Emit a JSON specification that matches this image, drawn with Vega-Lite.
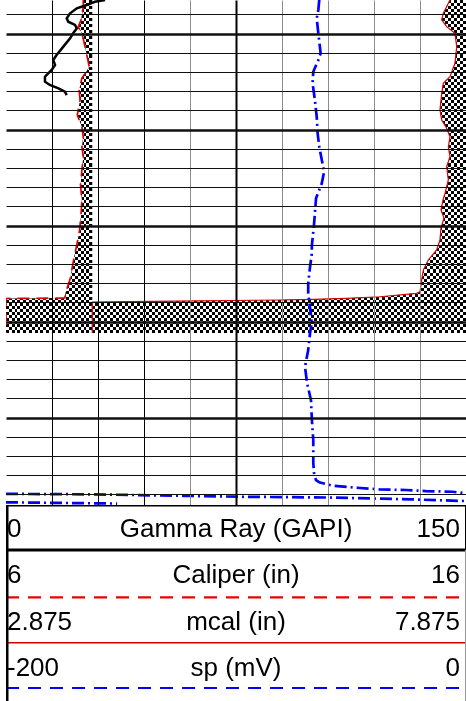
{
"$schema":"https://vega.github.io/schema/vega-lite/v6.json",
"background":"white",
"padding":{"left":6,"top":0,"right":0,"bottom":0},
"spacing":0,
"config":{"view":{"stroke":null}},
"datasets":{
"gr":[{"depth":996.5,"value":32.3},{"depth":996.68,"value":29.0},{"depth":997.02,"value":26.3},{"depth":997.36,"value":23.1},{"depth":997.89,"value":20.9},{"depth":998.41,"value":19.8},{"depth":998.76,"value":20.3},{"depth":999.1,"value":22.5},{"depth":999.45,"value":23.1},{"depth":999.97,"value":21.9},{"depth":1000.49,"value":20.9},{"depth":1001.36,"value":18.7},{"depth":1002.23,"value":16.5},{"depth":1002.75,"value":15.4},{"depth":1003.27,"value":16.0},{"depth":1003.79,"value":14.9},{"depth":1004.49,"value":12.7},{"depth":1005.01,"value":12.7},{"depth":1005.35,"value":14.3},{"depth":1005.7,"value":17.1},{"depth":1006.05,"value":19.2},{"depth":1006.4,"value":19.8}],
"cal":[{"depth":996.5,"value":7.68},{"depth":997.23,"value":7.68},{"depth":998.58,"value":7.63},{"depth":999.31,"value":7.57},{"depth":999.94,"value":7.65},{"depth":1001.4,"value":7.72},{"depth":1002.75,"value":7.78},{"depth":1003.48,"value":7.81},{"depth":1004.0,"value":7.74},{"depth":1004.63,"value":7.65},{"depth":1005.88,"value":7.59},{"depth":1006.92,"value":7.61},{"depth":1008.48,"value":7.55},{"depth":1009.73,"value":7.65},{"depth":1010.77,"value":7.68},{"depth":1011.81,"value":7.65},{"depth":1012.85,"value":7.68},{"depth":1014.21,"value":7.65},{"depth":1015.77,"value":7.62},{"depth":1017.33,"value":7.65},{"depth":1018.9,"value":7.63},{"depth":1020.46,"value":7.6},{"depth":1022.02,"value":7.54},{"depth":1023.06,"value":7.49},{"depth":1024.1,"value":7.45},{"depth":1025.46,"value":7.4},{"depth":1026.5,"value":7.33},{"depth":1027.13,"value":7.29},{"depth":1027.54,"value":7.28},{"depth":1027.59,"value":6.0},{"depth":1031.19,"value":6.0}],
"mcal":[{"depth":996.5,"value":7.701},{"depth":997.13,"value":7.668},{"depth":997.89,"value":7.628},{"depth":998.58,"value":7.611},{"depth":999.28,"value":7.665},{"depth":999.97,"value":7.755},{"depth":1001.36,"value":7.774},{"depth":1003.09,"value":7.755},{"depth":1004.49,"value":7.701},{"depth":1005.18,"value":7.628},{"depth":1006.22,"value":7.611},{"depth":1007.96,"value":7.592},{"depth":1009.0,"value":7.611},{"depth":1009.86,"value":7.665},{"depth":1010.74,"value":7.701},{"depth":1011.78,"value":7.683},{"depth":1012.82,"value":7.701},{"depth":1013.86,"value":7.665},{"depth":1015.25,"value":7.683},{"depth":1016.64,"value":7.647},{"depth":1017.33,"value":7.625},{"depth":1018.38,"value":7.603},{"depth":1019.21,"value":7.636},{"depth":1020.25,"value":7.603},{"depth":1021.5,"value":7.592},{"depth":1022.54,"value":7.556},{"depth":1023.58,"value":7.465},{"depth":1024.63,"value":7.411},{"depth":1025.67,"value":7.393},{"depth":1026.89,"value":7.375},{"depth":1027.05,"value":7.339},{"depth":1027.41,"value":6.94},{"depth":1027.57,"value":6.578},{"depth":1027.68,"value":6.215},{"depth":1027.75,"value":5.853},{"depth":1027.83,"value":4.984},{"depth":1027.91,"value":4.223},{"depth":1027.96,"value":3.8125},{"depth":1031.19,"value":3.8125}],
"sp":[{"depth":996.5,"sp":-63.8,"pass":1},{"depth":997.54,"sp":-64.2,"pass":1},{"depth":998.41,"sp":-64.9,"pass":1},{"depth":999.97,"sp":-64.2,"pass":1},{"depth":1002.05,"sp":-63.2,"pass":1},{"depth":1002.75,"sp":-64.2,"pass":1},{"depth":1003.97,"sp":-66.4,"pass":1},{"depth":1005.18,"sp":-66.7,"pass":1},{"depth":1006.92,"sp":-65.7,"pass":1},{"depth":1008.66,"sp":-64.9,"pass":1},{"depth":1010.39,"sp":-64.5,"pass":1},{"depth":1011.78,"sp":-63.8,"pass":1},{"depth":1014.39,"sp":-61.7,"pass":1},{"depth":1015.59,"sp":-62.7,"pass":1},{"depth":1017.16,"sp":-65.2,"pass":1},{"depth":1019.94,"sp":-66.1,"pass":1},{"depth":1022.02,"sp":-67.0,"pass":1},{"depth":1023.06,"sp":-67.1,"pass":1},{"depth":1024.28,"sp":-67.8,"pass":1},{"depth":1026.01,"sp":-68.6,"pass":1},{"depth":1027.05,"sp":-68.6,"pass":1},{"depth":1028.06,"sp":-68.1,"pass":1},{"depth":1029.1,"sp":-67.5,"pass":1},{"depth":1030.15,"sp":-67.1,"pass":1},{"depth":1031.19,"sp":-67.8,"pass":1},{"depth":1032.96,"sp":-68.6,"pass":1},{"depth":1034.7,"sp":-70.0,"pass":1},{"depth":1036.4,"sp":-69.1,"pass":1},{"depth":1038.17,"sp":-67.4,"pass":1},{"depth":1040.25,"sp":-67.0,"pass":1},{"depth":1042.33,"sp":-66.4,"pass":1},{"depth":1044.73,"sp":-66.4,"pass":1},{"depth":1045.98,"sp":-66.0,"pass":1},{"depth":1046.5,"sp":-65.2,"pass":1},{"depth":1046.74,"sp":-63.8,"pass":1},{"depth":1047.09,"sp":-58.0,"pass":1},{"depth":1047.3,"sp":-47.8,"pass":1},{"depth":1047.47,"sp":-37.7,"pass":1},{"depth":1047.54,"sp":-26.1,"pass":1},{"depth":1047.65,"sp":-17.4,"pass":1},{"depth":1047.72,"sp":-5.8,"pass":1},{"depth":1047.89,"sp":0,"pass":1},{"depth":1047.94,"sp":-200,"pass":2},{"depth":1047.99,"sp":-162.6,"pass":2},{"depth":1048.24,"sp":-98.3,"pass":2},{"depth":1048.32,"sp":-59.1,"pass":2},{"depth":1048.51,"sp":-24.3,"pass":2},{"depth":1048.69,"sp":0,"pass":2},{"depth":1048.82,"sp":-200,"pass":3},{"depth":1048.95,"sp":-151.7,"pass":3}],
"hdr":[{"row":1,"lo":"0","name":"Gamma Ray (GAPI)","hi":"150"},{"row":2,"lo":"6","name":"Caliper (in)","hi":"16"},{"row":3,"lo":"2.875","name":"mcal (in)","hi":"7.875"},{"row":4,"lo":"-200","name":"sp (mV)","hi":"0"}]
},
"vconcat":[
{"width":460,"height":505,
"encoding":{"y":{"field":"depth","type":"quantitative","scale":{"domain":[996.5,1049.1],"reverse":true,"nice":false,"zero":false},
"axis":{"values":[998,1000,1002,1004,1006,1008,1010,1012,1014,1016,1018,1020,1022,1024,1026,1028,1030,1032,1034,1036,1038,1040,1042,1044,1046,1048],"grid":true,"labels":false,"ticks":false,"domain":false,"title":null,"zindex":1,"gridColor":"#111111","gridOpacity":1,"gridWidth":{"condition":{"test":"datum.value % 10 === 0","value":2.5},"value":1}}}},
"resolve":{"scale":{"x":"independent"}},
"layer":[
{"data":{"name":"cal"},
"encoding":{"x":{"field":"value","type":"quantitative","scale":{"domain":[6,16],"nice":false,"zero":false},"axis":null}},
"layer":[
{"mark":{"type":"area","orient":"horizontal","color":{"gradient":"linear","x1":0,"y1":0,"x2":1,"y2":0,"stops":[
{"offset":0.0333,"color":"#000"},{"offset":0.0333,"color":"#fff"},{"offset":0.0667,"color":"#fff"},{"offset":0.0667,"color":"#000"},{"offset":0.1,"color":"#000"},{"offset":0.1,"color":"#fff"},{"offset":0.1333,"color":"#fff"},{"offset":0.1333,"color":"#000"},{"offset":0.1667,"color":"#000"},{"offset":0.1667,"color":"#fff"},{"offset":0.2,"color":"#fff"},{"offset":0.2,"color":"#000"},{"offset":0.2333,"color":"#000"},{"offset":0.2333,"color":"#fff"},{"offset":0.2667,"color":"#fff"},{"offset":0.2667,"color":"#000"},{"offset":0.3,"color":"#000"},{"offset":0.3,"color":"#fff"},{"offset":0.3333,"color":"#fff"},{"offset":0.3333,"color":"#000"},{"offset":0.3667,"color":"#000"},{"offset":0.3667,"color":"#fff"},{"offset":0.4,"color":"#fff"},{"offset":0.4,"color":"#000"},{"offset":0.4333,"color":"#000"},{"offset":0.4333,"color":"#fff"},{"offset":0.4667,"color":"#fff"},{"offset":0.4667,"color":"#000"},{"offset":0.5,"color":"#000"},{"offset":0.5,"color":"#fff"},{"offset":0.5333,"color":"#fff"},{"offset":0.5333,"color":"#000"},{"offset":0.5667,"color":"#000"},{"offset":0.5667,"color":"#fff"},{"offset":0.6,"color":"#fff"},{"offset":0.6,"color":"#000"},{"offset":0.6333,"color":"#000"},{"offset":0.6333,"color":"#fff"},{"offset":0.6667,"color":"#fff"},{"offset":0.6667,"color":"#000"},{"offset":0.7,"color":"#000"},{"offset":0.7,"color":"#fff"},{"offset":0.7333,"color":"#fff"},{"offset":0.7333,"color":"#000"},{"offset":0.7667,"color":"#000"},{"offset":0.7667,"color":"#fff"},{"offset":0.8,"color":"#fff"},{"offset":0.8,"color":"#000"},{"offset":0.8333,"color":"#000"},{"offset":0.8333,"color":"#fff"},{"offset":0.8667,"color":"#fff"},{"offset":0.8667,"color":"#000"},{"offset":0.9,"color":"#000"},{"offset":0.9,"color":"#fff"},{"offset":0.9333,"color":"#fff"},{"offset":0.9333,"color":"#000"},{"offset":0.9667,"color":"#000"},{"offset":0.9667,"color":"#fff"}
]}},"encoding":{"x2":{"datum":7.875}}},
{"mark":{"type":"area","orient":"horizontal","blend":"difference","color":{"gradient":"linear","x1":0,"y1":0,"x2":0,"y2":1,"stops":[
{"offset":0.0091,"color":"#fff"},{"offset":0.0091,"color":"#000"},{"offset":0.0182,"color":"#000"},{"offset":0.0182,"color":"#fff"},{"offset":0.0273,"color":"#fff"},{"offset":0.0273,"color":"#000"},{"offset":0.0364,"color":"#000"},{"offset":0.0364,"color":"#fff"},{"offset":0.0455,"color":"#fff"},{"offset":0.0455,"color":"#000"},{"offset":0.0545,"color":"#000"},{"offset":0.0545,"color":"#fff"},{"offset":0.0636,"color":"#fff"},{"offset":0.0636,"color":"#000"},{"offset":0.0727,"color":"#000"},{"offset":0.0727,"color":"#fff"},{"offset":0.0818,"color":"#fff"},{"offset":0.0818,"color":"#000"},{"offset":0.0909,"color":"#000"},{"offset":0.0909,"color":"#fff"},
{"offset":0.1,"color":"#fff"},{"offset":0.1,"color":"#000"},{"offset":0.1091,"color":"#000"},{"offset":0.1091,"color":"#fff"},{"offset":0.1182,"color":"#fff"},{"offset":0.1182,"color":"#000"},{"offset":0.1273,"color":"#000"},{"offset":0.1273,"color":"#fff"},{"offset":0.1364,"color":"#fff"},{"offset":0.1364,"color":"#000"},{"offset":0.1455,"color":"#000"},{"offset":0.1455,"color":"#fff"},{"offset":0.1545,"color":"#fff"},{"offset":0.1545,"color":"#000"},{"offset":0.1636,"color":"#000"},{"offset":0.1636,"color":"#fff"},{"offset":0.1727,"color":"#fff"},{"offset":0.1727,"color":"#000"},{"offset":0.1818,"color":"#000"},{"offset":0.1818,"color":"#fff"},{"offset":0.1909,"color":"#fff"},{"offset":0.1909,"color":"#000"},
{"offset":0.2,"color":"#000"},{"offset":0.2,"color":"#fff"},{"offset":0.2091,"color":"#fff"},{"offset":0.2091,"color":"#000"},{"offset":0.2182,"color":"#000"},{"offset":0.2182,"color":"#fff"},{"offset":0.2273,"color":"#fff"},{"offset":0.2273,"color":"#000"},{"offset":0.2364,"color":"#000"},{"offset":0.2364,"color":"#fff"},{"offset":0.2455,"color":"#fff"},{"offset":0.2455,"color":"#000"},{"offset":0.2545,"color":"#000"},{"offset":0.2545,"color":"#fff"},{"offset":0.2636,"color":"#fff"},{"offset":0.2636,"color":"#000"},{"offset":0.2727,"color":"#000"},{"offset":0.2727,"color":"#fff"},{"offset":0.2818,"color":"#fff"},{"offset":0.2818,"color":"#000"},{"offset":0.2909,"color":"#000"},{"offset":0.2909,"color":"#fff"},
{"offset":0.3,"color":"#fff"},{"offset":0.3,"color":"#000"},{"offset":0.3091,"color":"#000"},{"offset":0.3091,"color":"#fff"},{"offset":0.3182,"color":"#fff"},{"offset":0.3182,"color":"#000"},{"offset":0.3273,"color":"#000"},{"offset":0.3273,"color":"#fff"},{"offset":0.3364,"color":"#fff"},{"offset":0.3364,"color":"#000"},{"offset":0.3455,"color":"#000"},{"offset":0.3455,"color":"#fff"},{"offset":0.3545,"color":"#fff"},{"offset":0.3545,"color":"#000"},{"offset":0.3636,"color":"#000"},{"offset":0.3636,"color":"#fff"},{"offset":0.3727,"color":"#fff"},{"offset":0.3727,"color":"#000"},{"offset":0.3818,"color":"#000"},{"offset":0.3818,"color":"#fff"},{"offset":0.3909,"color":"#fff"},{"offset":0.3909,"color":"#000"},
{"offset":0.4,"color":"#000"},{"offset":0.4,"color":"#fff"},{"offset":0.4091,"color":"#fff"},{"offset":0.4091,"color":"#000"},{"offset":0.4182,"color":"#000"},{"offset":0.4182,"color":"#fff"},{"offset":0.4273,"color":"#fff"},{"offset":0.4273,"color":"#000"},{"offset":0.4364,"color":"#000"},{"offset":0.4364,"color":"#fff"},{"offset":0.4455,"color":"#fff"},{"offset":0.4455,"color":"#000"},{"offset":0.4545,"color":"#000"},{"offset":0.4545,"color":"#fff"},{"offset":0.4636,"color":"#fff"},{"offset":0.4636,"color":"#000"},{"offset":0.4727,"color":"#000"},{"offset":0.4727,"color":"#fff"},{"offset":0.4818,"color":"#fff"},{"offset":0.4818,"color":"#000"},{"offset":0.4909,"color":"#000"},{"offset":0.4909,"color":"#fff"},
{"offset":0.5,"color":"#fff"},{"offset":0.5,"color":"#000"},{"offset":0.5091,"color":"#000"},{"offset":0.5091,"color":"#fff"},{"offset":0.5182,"color":"#fff"},{"offset":0.5182,"color":"#000"},{"offset":0.5273,"color":"#000"},{"offset":0.5273,"color":"#fff"},{"offset":0.5364,"color":"#fff"},{"offset":0.5364,"color":"#000"},{"offset":0.5455,"color":"#000"},{"offset":0.5455,"color":"#fff"},{"offset":0.5545,"color":"#fff"},{"offset":0.5545,"color":"#000"},{"offset":0.5636,"color":"#000"},{"offset":0.5636,"color":"#fff"},{"offset":0.5727,"color":"#fff"},{"offset":0.5727,"color":"#000"},{"offset":0.5818,"color":"#000"},{"offset":0.5818,"color":"#fff"},{"offset":0.5909,"color":"#fff"},{"offset":0.5909,"color":"#000"},
{"offset":0.6,"color":"#000"},{"offset":0.6,"color":"#fff"},{"offset":0.6091,"color":"#fff"},{"offset":0.6091,"color":"#000"},{"offset":0.6182,"color":"#000"},{"offset":0.6182,"color":"#fff"},{"offset":0.6273,"color":"#fff"},{"offset":0.6273,"color":"#000"},{"offset":0.6364,"color":"#000"},{"offset":0.6364,"color":"#fff"},{"offset":0.6455,"color":"#fff"},{"offset":0.6455,"color":"#000"},{"offset":0.6545,"color":"#000"},{"offset":0.6545,"color":"#fff"},{"offset":0.6636,"color":"#fff"},{"offset":0.6636,"color":"#000"},{"offset":0.6727,"color":"#000"},{"offset":0.6727,"color":"#fff"},{"offset":0.6818,"color":"#fff"},{"offset":0.6818,"color":"#000"},{"offset":0.6909,"color":"#000"},{"offset":0.6909,"color":"#fff"},
{"offset":0.7,"color":"#fff"},{"offset":0.7,"color":"#000"},{"offset":0.7091,"color":"#000"},{"offset":0.7091,"color":"#fff"},{"offset":0.7182,"color":"#fff"},{"offset":0.7182,"color":"#000"},{"offset":0.7273,"color":"#000"},{"offset":0.7273,"color":"#fff"},{"offset":0.7364,"color":"#fff"},{"offset":0.7364,"color":"#000"},{"offset":0.7455,"color":"#000"},{"offset":0.7455,"color":"#fff"},{"offset":0.7545,"color":"#fff"},{"offset":0.7545,"color":"#000"},{"offset":0.7636,"color":"#000"},{"offset":0.7636,"color":"#fff"},{"offset":0.7727,"color":"#fff"},{"offset":0.7727,"color":"#000"},{"offset":0.7818,"color":"#000"},{"offset":0.7818,"color":"#fff"},{"offset":0.7909,"color":"#fff"},{"offset":0.7909,"color":"#000"},
{"offset":0.8,"color":"#000"},{"offset":0.8,"color":"#fff"},{"offset":0.8091,"color":"#fff"},{"offset":0.8091,"color":"#000"},{"offset":0.8182,"color":"#000"},{"offset":0.8182,"color":"#fff"},{"offset":0.8273,"color":"#fff"},{"offset":0.8273,"color":"#000"},{"offset":0.8364,"color":"#000"},{"offset":0.8364,"color":"#fff"},{"offset":0.8455,"color":"#fff"},{"offset":0.8455,"color":"#000"},{"offset":0.8545,"color":"#000"},{"offset":0.8545,"color":"#fff"},{"offset":0.8636,"color":"#fff"},{"offset":0.8636,"color":"#000"},{"offset":0.8727,"color":"#000"},{"offset":0.8727,"color":"#fff"},{"offset":0.8818,"color":"#fff"},{"offset":0.8818,"color":"#000"},{"offset":0.8909,"color":"#000"},{"offset":0.8909,"color":"#fff"},
{"offset":0.9,"color":"#fff"},{"offset":0.9,"color":"#000"},{"offset":0.9091,"color":"#000"},{"offset":0.9091,"color":"#fff"},{"offset":0.9182,"color":"#fff"},{"offset":0.9182,"color":"#000"},{"offset":0.9273,"color":"#000"},{"offset":0.9273,"color":"#fff"},{"offset":0.9364,"color":"#fff"},{"offset":0.9364,"color":"#000"},{"offset":0.9455,"color":"#000"},{"offset":0.9455,"color":"#fff"},{"offset":0.9545,"color":"#fff"},{"offset":0.9545,"color":"#000"},{"offset":0.9636,"color":"#000"},{"offset":0.9636,"color":"#fff"},{"offset":0.9727,"color":"#fff"},{"offset":0.9727,"color":"#000"},{"offset":0.9818,"color":"#000"},{"offset":0.9818,"color":"#fff"},{"offset":0.9909,"color":"#fff"},{"offset":0.9909,"color":"#000"}
]}},"encoding":{"x2":{"datum":7.875}}},
{"mark":{"type":"line","clip":true,"stroke":"#e00000","strokeWidth":1.7,"strokeDash":[12,7]},"encoding":{"order":{"field":"depth","type":"quantitative"}}}
]},
{"data":{"name":"mcal"},
"encoding":{"x":{"field":"value","type":"quantitative","scale":{"domain":[2.875,7.875],"nice":false,"zero":false},"axis":null}},
"layer":[
{"mark":{"type":"area","orient":"horizontal","color":{"gradient":"linear","x1":0,"y1":0,"x2":1,"y2":0,"stops":[
{"offset":0.008,"color":"#000"},{"offset":0.008,"color":"#fff"},{"offset":0.016,"color":"#fff"},{"offset":0.016,"color":"#000"},{"offset":0.024,"color":"#000"},{"offset":0.024,"color":"#fff"},{"offset":0.032,"color":"#fff"},{"offset":0.032,"color":"#000"},{"offset":0.04,"color":"#000"},{"offset":0.04,"color":"#fff"},{"offset":0.048,"color":"#fff"},{"offset":0.048,"color":"#000"},{"offset":0.056,"color":"#000"},{"offset":0.056,"color":"#fff"},{"offset":0.064,"color":"#fff"},{"offset":0.064,"color":"#000"},{"offset":0.072,"color":"#000"},{"offset":0.072,"color":"#fff"},{"offset":0.08,"color":"#fff"},{"offset":0.08,"color":"#000"},{"offset":0.088,"color":"#000"},{"offset":0.088,"color":"#fff"},{"offset":0.096,"color":"#fff"},{"offset":0.096,"color":"#000"},{"offset":0.104,"color":"#000"},{"offset":0.104,"color":"#fff"},{"offset":0.112,"color":"#fff"},{"offset":0.112,"color":"#000"},{"offset":0.12,"color":"#000"},{"offset":0.12,"color":"#fff"},{"offset":0.128,"color":"#fff"},{"offset":0.128,"color":"#000"},{"offset":0.136,"color":"#000"},{"offset":0.136,"color":"#fff"},{"offset":0.144,"color":"#fff"},{"offset":0.144,"color":"#000"},{"offset":0.152,"color":"#000"},{"offset":0.152,"color":"#fff"},{"offset":0.16,"color":"#fff"},{"offset":0.16,"color":"#000"},{"offset":0.168,"color":"#000"},{"offset":0.168,"color":"#fff"},{"offset":0.176,"color":"#fff"},{"offset":0.176,"color":"#000"},{"offset":0.184,"color":"#000"},{"offset":0.184,"color":"#fff"},{"offset":0.192,"color":"#fff"},{"offset":0.192,"color":"#000"},
{"offset":0.2,"color":"#000"},{"offset":0.2,"color":"#fff"},{"offset":0.208,"color":"#fff"},{"offset":0.208,"color":"#000"},{"offset":0.216,"color":"#000"},{"offset":0.216,"color":"#fff"},{"offset":0.224,"color":"#fff"},{"offset":0.224,"color":"#000"},{"offset":0.232,"color":"#000"},{"offset":0.232,"color":"#fff"},{"offset":0.24,"color":"#fff"},{"offset":0.24,"color":"#000"},{"offset":0.248,"color":"#000"},{"offset":0.248,"color":"#fff"},{"offset":0.256,"color":"#fff"},{"offset":0.256,"color":"#000"},{"offset":0.264,"color":"#000"},{"offset":0.264,"color":"#fff"},{"offset":0.272,"color":"#fff"},{"offset":0.272,"color":"#000"},{"offset":0.28,"color":"#000"},{"offset":0.28,"color":"#fff"},{"offset":0.288,"color":"#fff"},{"offset":0.288,"color":"#000"},{"offset":0.296,"color":"#000"},{"offset":0.296,"color":"#fff"},{"offset":0.304,"color":"#fff"},{"offset":0.304,"color":"#000"},{"offset":0.312,"color":"#000"},{"offset":0.312,"color":"#fff"},{"offset":0.32,"color":"#fff"},{"offset":0.32,"color":"#000"},{"offset":0.328,"color":"#000"},{"offset":0.328,"color":"#fff"},{"offset":0.336,"color":"#fff"},{"offset":0.336,"color":"#000"},{"offset":0.344,"color":"#000"},{"offset":0.344,"color":"#fff"},{"offset":0.352,"color":"#fff"},{"offset":0.352,"color":"#000"},{"offset":0.36,"color":"#000"},{"offset":0.36,"color":"#fff"},{"offset":0.368,"color":"#fff"},{"offset":0.368,"color":"#000"},{"offset":0.376,"color":"#000"},{"offset":0.376,"color":"#fff"},{"offset":0.384,"color":"#fff"},{"offset":0.384,"color":"#000"},{"offset":0.392,"color":"#000"},{"offset":0.392,"color":"#fff"},
{"offset":0.4,"color":"#fff"},{"offset":0.4,"color":"#000"},{"offset":0.408,"color":"#000"},{"offset":0.408,"color":"#fff"},{"offset":0.416,"color":"#fff"},{"offset":0.416,"color":"#000"},{"offset":0.424,"color":"#000"},{"offset":0.424,"color":"#fff"},{"offset":0.432,"color":"#fff"},{"offset":0.432,"color":"#000"},{"offset":0.44,"color":"#000"},{"offset":0.44,"color":"#fff"},{"offset":0.448,"color":"#fff"},{"offset":0.448,"color":"#000"},{"offset":0.456,"color":"#000"},{"offset":0.456,"color":"#fff"},{"offset":0.464,"color":"#fff"},{"offset":0.464,"color":"#000"},{"offset":0.472,"color":"#000"},{"offset":0.472,"color":"#fff"},{"offset":0.48,"color":"#fff"},{"offset":0.48,"color":"#000"},{"offset":0.488,"color":"#000"},{"offset":0.488,"color":"#fff"},{"offset":0.496,"color":"#fff"},{"offset":0.496,"color":"#000"},{"offset":0.504,"color":"#000"},{"offset":0.504,"color":"#fff"},{"offset":0.512,"color":"#fff"},{"offset":0.512,"color":"#000"},{"offset":0.52,"color":"#000"},{"offset":0.52,"color":"#fff"},{"offset":0.528,"color":"#fff"},{"offset":0.528,"color":"#000"},{"offset":0.536,"color":"#000"},{"offset":0.536,"color":"#fff"},{"offset":0.544,"color":"#fff"},{"offset":0.544,"color":"#000"},{"offset":0.552,"color":"#000"},{"offset":0.552,"color":"#fff"},{"offset":0.56,"color":"#fff"},{"offset":0.56,"color":"#000"},{"offset":0.568,"color":"#000"},{"offset":0.568,"color":"#fff"},{"offset":0.576,"color":"#fff"},{"offset":0.576,"color":"#000"},{"offset":0.584,"color":"#000"},{"offset":0.584,"color":"#fff"},{"offset":0.592,"color":"#fff"},{"offset":0.592,"color":"#000"},
{"offset":0.6,"color":"#000"},{"offset":0.6,"color":"#fff"},{"offset":0.608,"color":"#fff"},{"offset":0.608,"color":"#000"},{"offset":0.616,"color":"#000"},{"offset":0.616,"color":"#fff"},{"offset":0.624,"color":"#fff"},{"offset":0.624,"color":"#000"},{"offset":0.632,"color":"#000"},{"offset":0.632,"color":"#fff"},{"offset":0.64,"color":"#fff"},{"offset":0.64,"color":"#000"},{"offset":0.648,"color":"#000"},{"offset":0.648,"color":"#fff"},{"offset":0.656,"color":"#fff"},{"offset":0.656,"color":"#000"},{"offset":0.664,"color":"#000"},{"offset":0.664,"color":"#fff"},{"offset":0.672,"color":"#fff"},{"offset":0.672,"color":"#000"},{"offset":0.68,"color":"#000"},{"offset":0.68,"color":"#fff"},{"offset":0.688,"color":"#fff"},{"offset":0.688,"color":"#000"},{"offset":0.696,"color":"#000"},{"offset":0.696,"color":"#fff"},{"offset":0.704,"color":"#fff"},{"offset":0.704,"color":"#000"},{"offset":0.712,"color":"#000"},{"offset":0.712,"color":"#fff"},{"offset":0.72,"color":"#fff"},{"offset":0.72,"color":"#000"},{"offset":0.728,"color":"#000"},{"offset":0.728,"color":"#fff"},{"offset":0.736,"color":"#fff"},{"offset":0.736,"color":"#000"},{"offset":0.744,"color":"#000"},{"offset":0.744,"color":"#fff"},{"offset":0.752,"color":"#fff"},{"offset":0.752,"color":"#000"},{"offset":0.76,"color":"#000"},{"offset":0.76,"color":"#fff"},{"offset":0.768,"color":"#fff"},{"offset":0.768,"color":"#000"},{"offset":0.776,"color":"#000"},{"offset":0.776,"color":"#fff"},{"offset":0.784,"color":"#fff"},{"offset":0.784,"color":"#000"},{"offset":0.792,"color":"#000"},{"offset":0.792,"color":"#fff"},
{"offset":0.8,"color":"#fff"},{"offset":0.8,"color":"#000"},{"offset":0.808,"color":"#000"},{"offset":0.808,"color":"#fff"},{"offset":0.816,"color":"#fff"},{"offset":0.816,"color":"#000"},{"offset":0.824,"color":"#000"},{"offset":0.824,"color":"#fff"},{"offset":0.832,"color":"#fff"},{"offset":0.832,"color":"#000"},{"offset":0.84,"color":"#000"},{"offset":0.84,"color":"#fff"},{"offset":0.848,"color":"#fff"},{"offset":0.848,"color":"#000"},{"offset":0.856,"color":"#000"},{"offset":0.856,"color":"#fff"},{"offset":0.864,"color":"#fff"},{"offset":0.864,"color":"#000"},{"offset":0.872,"color":"#000"},{"offset":0.872,"color":"#fff"},{"offset":0.88,"color":"#fff"},{"offset":0.88,"color":"#000"},{"offset":0.888,"color":"#000"},{"offset":0.888,"color":"#fff"},{"offset":0.896,"color":"#fff"},{"offset":0.896,"color":"#000"},{"offset":0.904,"color":"#000"},{"offset":0.904,"color":"#fff"},{"offset":0.912,"color":"#fff"},{"offset":0.912,"color":"#000"},{"offset":0.92,"color":"#000"},{"offset":0.92,"color":"#fff"},{"offset":0.928,"color":"#fff"},{"offset":0.928,"color":"#000"},{"offset":0.936,"color":"#000"},{"offset":0.936,"color":"#fff"},{"offset":0.944,"color":"#fff"},{"offset":0.944,"color":"#000"},{"offset":0.952,"color":"#000"},{"offset":0.952,"color":"#fff"},{"offset":0.96,"color":"#fff"},{"offset":0.96,"color":"#000"},{"offset":0.968,"color":"#000"},{"offset":0.968,"color":"#fff"},{"offset":0.976,"color":"#fff"},{"offset":0.976,"color":"#000"},{"offset":0.984,"color":"#000"},{"offset":0.984,"color":"#fff"},{"offset":0.992,"color":"#fff"},{"offset":0.992,"color":"#000"}
]}},"encoding":{"x2":{"datum":7.875}}},
{"mark":{"type":"area","orient":"horizontal","blend":"difference","color":{"gradient":"linear","x1":0,"y1":0,"x2":0,"y2":1,"stops":[
{"offset":0.0091,"color":"#fff"},{"offset":0.0091,"color":"#000"},{"offset":0.0182,"color":"#000"},{"offset":0.0182,"color":"#fff"},{"offset":0.0273,"color":"#fff"},{"offset":0.0273,"color":"#000"},{"offset":0.0364,"color":"#000"},{"offset":0.0364,"color":"#fff"},{"offset":0.0455,"color":"#fff"},{"offset":0.0455,"color":"#000"},{"offset":0.0545,"color":"#000"},{"offset":0.0545,"color":"#fff"},{"offset":0.0636,"color":"#fff"},{"offset":0.0636,"color":"#000"},{"offset":0.0727,"color":"#000"},{"offset":0.0727,"color":"#fff"},{"offset":0.0818,"color":"#fff"},{"offset":0.0818,"color":"#000"},{"offset":0.0909,"color":"#000"},{"offset":0.0909,"color":"#fff"},
{"offset":0.1,"color":"#fff"},{"offset":0.1,"color":"#000"},{"offset":0.1091,"color":"#000"},{"offset":0.1091,"color":"#fff"},{"offset":0.1182,"color":"#fff"},{"offset":0.1182,"color":"#000"},{"offset":0.1273,"color":"#000"},{"offset":0.1273,"color":"#fff"},{"offset":0.1364,"color":"#fff"},{"offset":0.1364,"color":"#000"},{"offset":0.1455,"color":"#000"},{"offset":0.1455,"color":"#fff"},{"offset":0.1545,"color":"#fff"},{"offset":0.1545,"color":"#000"},{"offset":0.1636,"color":"#000"},{"offset":0.1636,"color":"#fff"},{"offset":0.1727,"color":"#fff"},{"offset":0.1727,"color":"#000"},{"offset":0.1818,"color":"#000"},{"offset":0.1818,"color":"#fff"},{"offset":0.1909,"color":"#fff"},{"offset":0.1909,"color":"#000"},
{"offset":0.2,"color":"#000"},{"offset":0.2,"color":"#fff"},{"offset":0.2091,"color":"#fff"},{"offset":0.2091,"color":"#000"},{"offset":0.2182,"color":"#000"},{"offset":0.2182,"color":"#fff"},{"offset":0.2273,"color":"#fff"},{"offset":0.2273,"color":"#000"},{"offset":0.2364,"color":"#000"},{"offset":0.2364,"color":"#fff"},{"offset":0.2455,"color":"#fff"},{"offset":0.2455,"color":"#000"},{"offset":0.2545,"color":"#000"},{"offset":0.2545,"color":"#fff"},{"offset":0.2636,"color":"#fff"},{"offset":0.2636,"color":"#000"},{"offset":0.2727,"color":"#000"},{"offset":0.2727,"color":"#fff"},{"offset":0.2818,"color":"#fff"},{"offset":0.2818,"color":"#000"},{"offset":0.2909,"color":"#000"},{"offset":0.2909,"color":"#fff"},
{"offset":0.3,"color":"#fff"},{"offset":0.3,"color":"#000"},{"offset":0.3091,"color":"#000"},{"offset":0.3091,"color":"#fff"},{"offset":0.3182,"color":"#fff"},{"offset":0.3182,"color":"#000"},{"offset":0.3273,"color":"#000"},{"offset":0.3273,"color":"#fff"},{"offset":0.3364,"color":"#fff"},{"offset":0.3364,"color":"#000"},{"offset":0.3455,"color":"#000"},{"offset":0.3455,"color":"#fff"},{"offset":0.3545,"color":"#fff"},{"offset":0.3545,"color":"#000"},{"offset":0.3636,"color":"#000"},{"offset":0.3636,"color":"#fff"},{"offset":0.3727,"color":"#fff"},{"offset":0.3727,"color":"#000"},{"offset":0.3818,"color":"#000"},{"offset":0.3818,"color":"#fff"},{"offset":0.3909,"color":"#fff"},{"offset":0.3909,"color":"#000"},
{"offset":0.4,"color":"#000"},{"offset":0.4,"color":"#fff"},{"offset":0.4091,"color":"#fff"},{"offset":0.4091,"color":"#000"},{"offset":0.4182,"color":"#000"},{"offset":0.4182,"color":"#fff"},{"offset":0.4273,"color":"#fff"},{"offset":0.4273,"color":"#000"},{"offset":0.4364,"color":"#000"},{"offset":0.4364,"color":"#fff"},{"offset":0.4455,"color":"#fff"},{"offset":0.4455,"color":"#000"},{"offset":0.4545,"color":"#000"},{"offset":0.4545,"color":"#fff"},{"offset":0.4636,"color":"#fff"},{"offset":0.4636,"color":"#000"},{"offset":0.4727,"color":"#000"},{"offset":0.4727,"color":"#fff"},{"offset":0.4818,"color":"#fff"},{"offset":0.4818,"color":"#000"},{"offset":0.4909,"color":"#000"},{"offset":0.4909,"color":"#fff"},
{"offset":0.5,"color":"#fff"},{"offset":0.5,"color":"#000"},{"offset":0.5091,"color":"#000"},{"offset":0.5091,"color":"#fff"},{"offset":0.5182,"color":"#fff"},{"offset":0.5182,"color":"#000"},{"offset":0.5273,"color":"#000"},{"offset":0.5273,"color":"#fff"},{"offset":0.5364,"color":"#fff"},{"offset":0.5364,"color":"#000"},{"offset":0.5455,"color":"#000"},{"offset":0.5455,"color":"#fff"},{"offset":0.5545,"color":"#fff"},{"offset":0.5545,"color":"#000"},{"offset":0.5636,"color":"#000"},{"offset":0.5636,"color":"#fff"},{"offset":0.5727,"color":"#fff"},{"offset":0.5727,"color":"#000"},{"offset":0.5818,"color":"#000"},{"offset":0.5818,"color":"#fff"},{"offset":0.5909,"color":"#fff"},{"offset":0.5909,"color":"#000"},
{"offset":0.6,"color":"#000"},{"offset":0.6,"color":"#fff"},{"offset":0.6091,"color":"#fff"},{"offset":0.6091,"color":"#000"},{"offset":0.6182,"color":"#000"},{"offset":0.6182,"color":"#fff"},{"offset":0.6273,"color":"#fff"},{"offset":0.6273,"color":"#000"},{"offset":0.6364,"color":"#000"},{"offset":0.6364,"color":"#fff"},{"offset":0.6455,"color":"#fff"},{"offset":0.6455,"color":"#000"},{"offset":0.6545,"color":"#000"},{"offset":0.6545,"color":"#fff"},{"offset":0.6636,"color":"#fff"},{"offset":0.6636,"color":"#000"},{"offset":0.6727,"color":"#000"},{"offset":0.6727,"color":"#fff"},{"offset":0.6818,"color":"#fff"},{"offset":0.6818,"color":"#000"},{"offset":0.6909,"color":"#000"},{"offset":0.6909,"color":"#fff"},
{"offset":0.7,"color":"#fff"},{"offset":0.7,"color":"#000"},{"offset":0.7091,"color":"#000"},{"offset":0.7091,"color":"#fff"},{"offset":0.7182,"color":"#fff"},{"offset":0.7182,"color":"#000"},{"offset":0.7273,"color":"#000"},{"offset":0.7273,"color":"#fff"},{"offset":0.7364,"color":"#fff"},{"offset":0.7364,"color":"#000"},{"offset":0.7455,"color":"#000"},{"offset":0.7455,"color":"#fff"},{"offset":0.7545,"color":"#fff"},{"offset":0.7545,"color":"#000"},{"offset":0.7636,"color":"#000"},{"offset":0.7636,"color":"#fff"},{"offset":0.7727,"color":"#fff"},{"offset":0.7727,"color":"#000"},{"offset":0.7818,"color":"#000"},{"offset":0.7818,"color":"#fff"},{"offset":0.7909,"color":"#fff"},{"offset":0.7909,"color":"#000"},
{"offset":0.8,"color":"#000"},{"offset":0.8,"color":"#fff"},{"offset":0.8091,"color":"#fff"},{"offset":0.8091,"color":"#000"},{"offset":0.8182,"color":"#000"},{"offset":0.8182,"color":"#fff"},{"offset":0.8273,"color":"#fff"},{"offset":0.8273,"color":"#000"},{"offset":0.8364,"color":"#000"},{"offset":0.8364,"color":"#fff"},{"offset":0.8455,"color":"#fff"},{"offset":0.8455,"color":"#000"},{"offset":0.8545,"color":"#000"},{"offset":0.8545,"color":"#fff"},{"offset":0.8636,"color":"#fff"},{"offset":0.8636,"color":"#000"},{"offset":0.8727,"color":"#000"},{"offset":0.8727,"color":"#fff"},{"offset":0.8818,"color":"#fff"},{"offset":0.8818,"color":"#000"},{"offset":0.8909,"color":"#000"},{"offset":0.8909,"color":"#fff"},
{"offset":0.9,"color":"#fff"},{"offset":0.9,"color":"#000"},{"offset":0.9091,"color":"#000"},{"offset":0.9091,"color":"#fff"},{"offset":0.9182,"color":"#fff"},{"offset":0.9182,"color":"#000"},{"offset":0.9273,"color":"#000"},{"offset":0.9273,"color":"#fff"},{"offset":0.9364,"color":"#fff"},{"offset":0.9364,"color":"#000"},{"offset":0.9455,"color":"#000"},{"offset":0.9455,"color":"#fff"},{"offset":0.9545,"color":"#fff"},{"offset":0.9545,"color":"#000"},{"offset":0.9636,"color":"#000"},{"offset":0.9636,"color":"#fff"},{"offset":0.9727,"color":"#fff"},{"offset":0.9727,"color":"#000"},{"offset":0.9818,"color":"#000"},{"offset":0.9818,"color":"#fff"},{"offset":0.9909,"color":"#fff"},{"offset":0.9909,"color":"#000"}
]}},"encoding":{"x2":{"datum":7.875}}},
{"mark":{"type":"line","clip":true,"stroke":"#dd0000","strokeWidth":1.2},"encoding":{"order":{"field":"depth","type":"quantitative"}}}
]},
{"data":{"values":[{"bit":7.875}]},
"mark":{"type":"rule","clip":true,"stroke":"#000000","strokeWidth":1.3},
"encoding":{"x":{"field":"bit","type":"quantitative","scale":{"domain":[6,16],"nice":false,"zero":false},"axis":null},"y":{"datum":996.5},"y2":{"datum":1049.1}}},
{"data":{"name":"gr"},
"encoding":{"x":{"field":"value","type":"quantitative","scale":{"domain":[0,150],"nice":false,"zero":false},
"axis":{"values":[15,30,45,60,75,90,105,120,135,150],"grid":true,"labels":false,"ticks":false,"domain":false,"title":null,"zindex":1,"gridOpacity":1,
"gridColor":{"condition":{"test":"datum.value <= 45 || datum.value == 75","value":"#000000"},"value":"#8c8c8c"},
"gridWidth":{"condition":{"test":"datum.value == 75","value":2},"value":1}}}},
"layer":[
{"mark":{"type":"line","clip":true,"stroke":"#000000","strokeWidth":2.5},"encoding":{"order":{"field":"depth","type":"quantitative"}}}
]},
{"data":{"values":[{"edge":0}]},
"mark":{"type":"rule","clip":true,"stroke":"#000000","strokeWidth":5},
"encoding":{"x":{"field":"edge","type":"quantitative","scale":{"domain":[0,150],"nice":false,"zero":false},"axis":null},"y":{"datum":996.5},"y2":{"datum":1049.1}}},
{"data":{"name":"sp"},
"mark":{"type":"line","clip":true,"stroke":"#0000ff","strokeWidth":2.7,"strokeDash":[12,4,2,4]},
"encoding":{"x":{"field":"sp","type":"quantitative","scale":{"domain":[-200,0],"nice":false,"zero":false},"axis":null},"detail":{"field":"pass","type":"nominal"},"order":{"field":"depth","type":"quantitative"}}}
]},
{"width":460,"height":196,
"data":{"name":"hdr"},
"encoding":{"y":{"field":"row","type":"quantitative","scale":{"domain":[0.3093,4.5398],"reverse":true,"nice":false,"zero":false},"axis":null}},
"layer":[
{"mark":{"type":"text","align":"left","baseline":"alphabetic","dx":1,"font":"Liberation Sans","fontSize":26,"color":"#000000"},
"encoding":{"x":{"datum":0,"type":"quantitative","scale":{"domain":[0,1],"nice":false,"zero":false},"axis":null},"text":{"field":"lo","type":"nominal"}}},
{"mark":{"type":"text","align":"center","baseline":"alphabetic","font":"Liberation Sans","fontSize":26,"color":"#000000"},
"encoding":{"x":{"datum":0.5,"type":"quantitative"},"text":{"field":"name","type":"nominal"}}},
{"mark":{"type":"text","align":"right","baseline":"alphabetic","dx":-6,"font":"Liberation Sans","fontSize":26,"color":"#000000"},
"encoding":{"x":{"datum":1,"type":"quantitative"},"text":{"field":"hi","type":"nominal"}}},
{"transform":[{"filter":"datum.row == 1"}],"mark":{"type":"rule","clip":true,"stroke":"#000000","strokeWidth":3,"yOffset":13},"encoding":{"x":{"datum":0},"x2":{"datum":1}}},
{"transform":[{"filter":"datum.row == 2"}],"mark":{"type":"rule","clip":true,"stroke":"#ee0000","strokeWidth":2.2,"strokeDash":[13,9],"yOffset":14},"encoding":{"x":{"datum":0},"x2":{"datum":1}}},
{"transform":[{"filter":"datum.row == 3"}],"mark":{"type":"rule","clip":true,"stroke":"#cc0000","strokeWidth":1.5,"yOffset":13},"encoding":{"x":{"datum":0},"x2":{"datum":1}}},
{"transform":[{"filter":"datum.row == 4"}],"mark":{"type":"rule","clip":true,"stroke":"#0000ff","strokeWidth":2.2,"strokeDash":[13,9],"yOffset":12},"encoding":{"x":{"datum":0},"x2":{"datum":1}}},
{"transform":[{"filter":"datum.row == 1"}],"mark":{"type":"rule","clip":true,"stroke":"#000000","strokeWidth":1.5},"encoding":{"x":{"datum":0},"x2":{"datum":1},"y":{"datum":0.3255}}},
{"transform":[{"filter":"datum.row == 1"}],"mark":{"type":"rule","clip":true,"stroke":"#000000","strokeWidth":5},"encoding":{"x":{"datum":0},"y":{"datum":0.3093},"y2":{"datum":4.5398}}},
{"transform":[{"filter":"datum.row == 1"}],"mark":{"type":"rule","clip":true,"stroke":"#999999","strokeWidth":2},"encoding":{"x":{"datum":1},"y":{"datum":0.3093},"y2":{"datum":4.5398}}},
{"transform":[{"filter":"datum.row == 1"}],"mark":{"type":"rule","clip":true,"stroke":"#000000","strokeWidth":2,"y2Offset":13},"encoding":{"x":{"datum":1},"y":{"datum":0.3093},"y2":{"field":"row"}}}
]}
]
}
